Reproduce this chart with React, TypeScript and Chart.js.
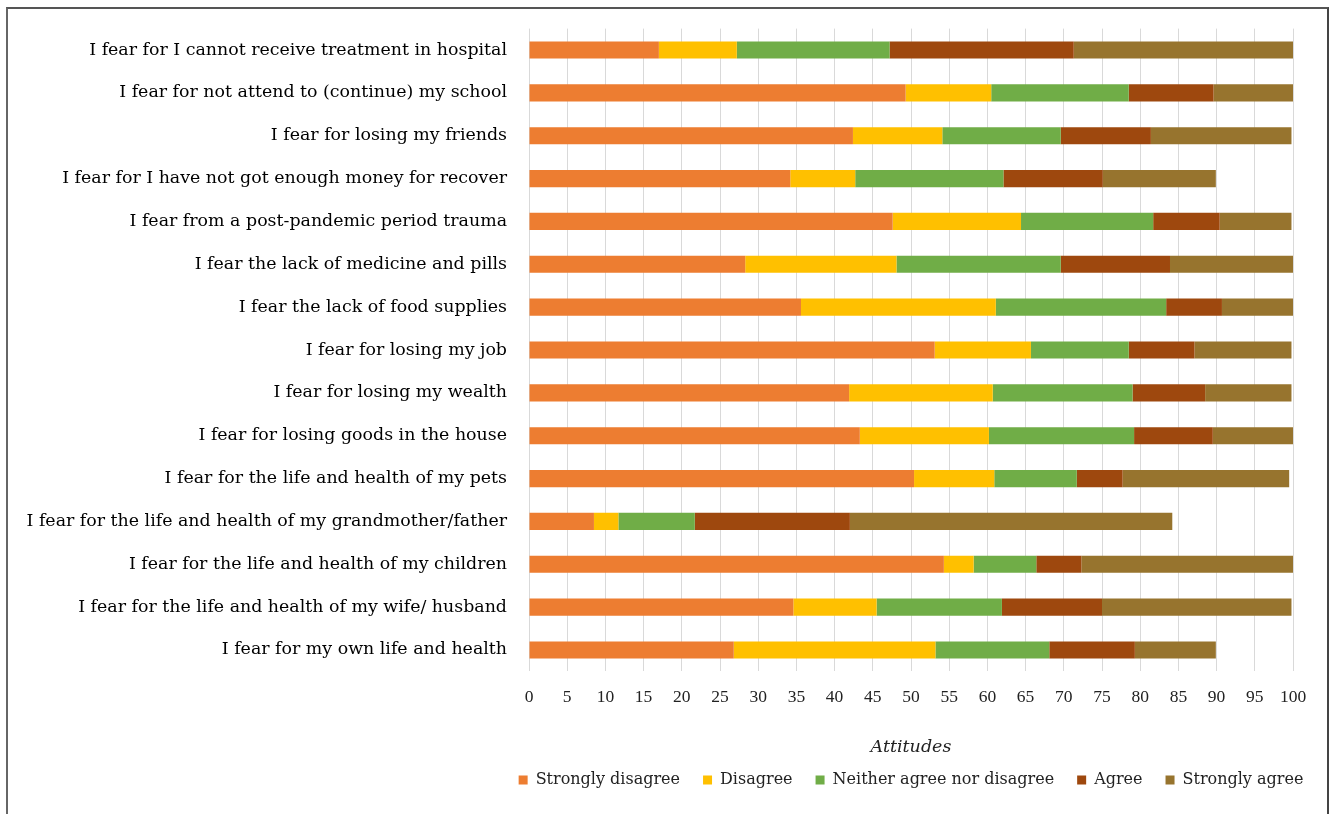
import React, { useEffect, useRef } from 'react';
import { Chart, registerables } from 'chart.js';

Chart.register(...registerables);

const categories = [
  'I fear for I cannot receive treatment in hospital',
  'I fear for not attend to (continue) my school',
  'I fear for losing my friends',
  'I fear for I have not got enough money for recover',
  'I fear from a post-pandemic period trauma',
  'I fear the lack of medicine and pills',
  'I fear the lack of food supplies',
  'I fear for losing my job',
  'I fear for losing my wealth',
  'I fear for losing goods in the house',
  'I fear for the life and health of my pets',
  'I fear for the life and health of my grandmother/father',
  'I fear for the life and health of my children',
  'I fear for the life and health of my wife/ husband',
  'I fear for my own life and health',
];

const stronglyDisagree = [17.0, 49.3, 42.4, 34.2, 47.6, 28.3, 35.6, 53.1, 41.9, 43.3, 50.4, 8.5, 54.3, 34.6, 26.8];
const disagree = [10.2, 11.2, 11.7, 8.5, 16.8, 19.8, 25.5, 12.6, 18.8, 16.9, 10.5, 3.2, 3.9, 10.9, 26.4];
const neither = [20.0, 18.0, 15.5, 19.4, 17.3, 21.5, 22.3, 12.8, 18.3, 19.0, 10.8, 10.0, 8.2, 16.4, 14.9];
const agree = [24.1, 11.1, 11.8, 13.0, 8.7, 14.3, 7.3, 8.6, 9.5, 10.3, 6.0, 20.3, 5.9, 13.1, 11.2];
const stronglyAgree = [28.7, 10.4, 18.4, 14.8, 9.4, 16.1, 9.3, 12.7, 11.3, 10.5, 21.8, 42.2, 27.7, 24.8, 10.6];

const seriesNames = ['Strongly disagree', 'Disagree', 'Neither agree nor disagree', 'Agree', 'Strongly agree'];
const seriesColors = ['#ED7D31', '#FFC000', '#70AD47', '#9E480E', '#97742E'];
const seriesValues = [stronglyDisagree, disagree, neither, agree, stronglyAgree];

const xTitle = 'Attitudes';
const SERIF = "'DejaVu Serif', serif";
const NUM = "'Liberation Serif', 'Times New Roman', serif";

// Centre the (full-width) legend under the plot area, as in the reference.
const centreLegend = {
  id: 'centreLegend',
  afterLayout(chart: any) {
    const lg = chart.legend;
    const ca = chart.chartArea;
    if (!lg || !ca) return;
    const c = (ca.left + ca.right) / 2;
    const half = (lg.right - lg.left) / 2;
    lg.left = c - half;
    lg.right = c + half;
  },
};

export default function App() {
  const canvasRef = useRef<HTMLCanvasElement | null>(null);

  useEffect(() => {
    if (!canvasRef.current) return;
    const chart = new Chart(canvasRef.current, {
      type: 'bar',
      data: {
        labels: categories,
        datasets: seriesNames.map((name, i) => ({
          label: name,
          data: seriesValues[i],
          backgroundColor: seriesColors[i],
          borderWidth: 0,
          categoryPercentage: 1,
          barPercentage: 0.4,
        })),
      },
      options: {
        indexAxis: 'y',
        responsive: false,
        animation: false,
        devicePixelRatio: 1,
        layout: { padding: { left: 0, right: 37, top: 28.6, bottom: 16 } },
        scales: {
          x: {
            stacked: true,
            min: 0,
            max: 100,
            ticks: {
              stepSize: 5,
              autoSkip: false,
              maxRotation: 0,
              padding: 16,
              color: '#222',
              font: { family: NUM, size: 17.5 },
            },
            grid: { color: '#D9D9D9', lineWidth: 1, drawTicks: false },
            border: { display: false },
            title: {
              display: true,
              text: xTitle,
              color: '#222',
              font: { family: SERIF, size: 17.5, style: 'italic' },
              padding: { top: 0, bottom: -8.5 },
            },
            afterFit: (scale: any) => {
              scale.height = 77.6;
            },
          },
          y: {
            stacked: true,
            ticks: {
              padding: 22,
              color: '#000',
              autoSkip: false,
              font: { family: SERIF, size: 17.4 },
            },
            grid: { display: false, drawTicks: false },
            border: { display: false },
            afterFit: (scale: any) => {
              scale.width = 529;
              scale.paddingTop = 0;
              scale.paddingBottom = 0;
            },
          },
        },
        plugins: {
          legend: {
            position: 'bottom',
            fullSize: true,
            labels: {
              boxWidth: 9,
              boxHeight: 9,
              padding: 23,
              color: '#222',
              font: { family: SERIF, size: 16 },
            },
          },
          tooltip: { enabled: false },
        },
      },
      plugins: [centreLegend],
    });
    return () => chart.destroy();
  }, []);

  return (
    <div style={{ position: 'fixed', left: 0, top: 0, width: 1330, height: 814, background: '#fff', overflow: 'hidden' }}>
      <div
        style={{
          position: 'absolute',
          left: 6,
          top: 7,
          width: 1323,
          height: 830,
          boxSizing: 'border-box',
          borderTop: '2px solid #555',
          borderLeft: '2px solid #666',
          borderRight: '2px solid #444',
        }}
      />
      <canvas ref={canvasRef} width={1330} height={814} style={{ position: 'absolute', left: 0, top: 0 }} />
    </div>
  );
}
